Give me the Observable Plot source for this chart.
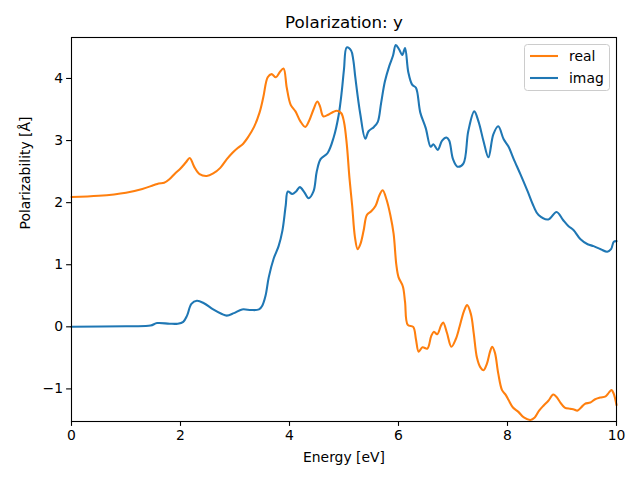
<!DOCTYPE html>
<html>
<head>
<meta charset="utf-8">
<script src="https://cdn.jsdelivr.net/npm/d3@7"></script>
<script src="https://cdn.jsdelivr.net/npm/@observablehq/plot@0.6"></script>
<style>
  html, body { margin: 0; padding: 0; background: #fff; }
</style>
</head>
<body>
<div id="chart"></div>
<script>
const titleText = "Polarization: y";
const xLabel = "Energy [eV]";
const yLabel = "Polarizability [Å]";
const xTicks = [0, 2, 4, 6, 8, 10];
const yTicks = [-1, 0, 1, 2, 3, 4];
const seriesNames = ["real", "imag"];
const seriesColors = ["#ff7f0e", "#1f77b4"];

const realE = [0, 0.5, 1.0, 1.3, 1.5, 1.6, 1.7, 1.8, 1.9, 2.0, 2.1, 2.17, 2.25, 2.35, 2.48, 2.6, 2.73, 2.85, 2.95, 3.05, 3.15, 3.25, 3.35, 3.45, 3.52, 3.6, 3.67, 3.75, 3.82, 3.89, 3.95, 4.02, 4.11, 4.2, 4.29, 4.36, 4.44, 4.51, 4.56, 4.62, 4.72, 4.8, 4.87, 4.95, 5.0, 5.05, 5.1, 5.15, 5.2, 5.25, 5.3, 5.36, 5.42, 5.5, 5.58, 5.65, 5.71, 5.78, 5.85, 5.91, 5.96, 6.0, 6.08, 6.12, 6.17, 6.27, 6.32, 6.37, 6.44, 6.53, 6.6, 6.65, 6.71, 6.78, 6.82, 6.89, 6.97, 7.05, 7.12, 7.2, 7.26, 7.33, 7.38, 7.44, 7.5, 7.56, 7.62, 7.68, 7.72, 7.77, 7.83, 7.9, 7.97, 8.02, 8.1, 8.2, 8.3, 8.42, 8.5, 8.58, 8.66, 8.75, 8.84, 8.9, 8.97, 9.05, 9.15, 9.22, 9.28, 9.35, 9.42, 9.52, 9.6, 9.7, 9.8, 9.86, 9.91, 9.95, 10.0];
const realV = [2.09, 2.11, 2.16, 2.22, 2.28, 2.31, 2.32, 2.38, 2.47, 2.55, 2.65, 2.72, 2.58, 2.46, 2.43, 2.47, 2.56, 2.7, 2.8, 2.88, 2.95, 3.07, 3.22, 3.45, 3.7, 4.02, 4.07, 4.02, 4.1, 4.16, 3.85, 3.58, 3.47, 3.31, 3.22, 3.32, 3.5, 3.63, 3.55, 3.39, 3.42, 3.46, 3.48, 3.44, 3.3, 2.95, 2.4, 1.95, 1.45, 1.25, 1.33, 1.55, 1.8, 1.86, 1.95, 2.12, 2.2, 2.05, 1.8, 1.5, 1.0, 0.8, 0.65, 0.4, 0.03, 0.0, -0.2, -0.4, -0.33, -0.35, -0.15, -0.08, -0.12, 0.02, 0.07, -0.1, -0.32, -0.2, 0.0, 0.25, 0.35, 0.2, -0.1, -0.5, -0.65, -0.7, -0.6, -0.4, -0.32, -0.42, -0.75, -1.02, -1.1, -1.18, -1.3, -1.37, -1.46, -1.5, -1.46, -1.35, -1.27, -1.19, -1.09, -1.13, -1.22, -1.3, -1.32, -1.33, -1.35, -1.3, -1.24, -1.22, -1.17, -1.14, -1.12, -1.06, -1.02, -1.08, -1.26];

const imagE = [0, 1.0, 1.45, 1.57, 1.8, 1.95, 2.05, 2.12, 2.2, 2.3, 2.43, 2.6, 2.75, 2.85, 2.98, 3.13, 3.3, 3.44, 3.5, 3.56, 3.62, 3.71, 3.8, 3.87, 3.93, 3.97, 4.05, 4.12, 4.19, 4.27, 4.35, 4.44, 4.5, 4.57, 4.7, 4.81, 4.9, 4.96, 5.0, 5.05, 5.13, 5.17, 5.21, 5.3, 5.39, 5.45, 5.55, 5.62, 5.68, 5.75, 5.83, 5.9, 5.95, 6.01, 6.07, 6.12, 6.18, 6.25, 6.32, 6.4, 6.5, 6.59, 6.64, 6.72, 6.8, 6.88, 6.93, 7.0, 7.08, 7.19, 7.28, 7.39, 7.47, 7.56, 7.65, 7.74, 7.83, 7.93, 8.02, 8.11, 8.24, 8.37, 8.48, 8.57, 8.75, 8.9, 9.02, 9.12, 9.21, 9.34, 9.47, 9.58, 9.71, 9.83, 9.9, 9.95, 10.0];
const imagV = [0.0, 0.01, 0.02, 0.06, 0.05, 0.05, 0.08, 0.18, 0.37, 0.42, 0.38, 0.28, 0.21, 0.18, 0.22, 0.28, 0.27, 0.28, 0.34, 0.5, 0.8, 1.1, 1.3, 1.55, 1.95, 2.18, 2.14, 2.18, 2.25, 2.17, 2.07, 2.18, 2.5, 2.7, 2.8, 3.05, 3.4, 3.8, 4.15, 4.5, 4.45, 4.3, 4.0, 3.42, 3.03, 3.15, 3.22, 3.3, 3.6, 3.95, 4.2, 4.37, 4.54, 4.47, 4.38, 4.49, 4.1, 3.9, 3.85, 3.45, 3.2, 2.9, 2.94, 2.85, 3.0, 3.05, 3.0, 2.7, 2.58, 2.63, 3.15, 3.47, 3.3, 2.99, 2.73, 3.1, 3.23, 3.02, 2.9, 2.71, 2.45, 2.18, 1.94, 1.8, 1.73, 1.85, 1.72, 1.62, 1.56, 1.41, 1.33, 1.3, 1.25, 1.21, 1.25, 1.37, 1.38];

const realData = realE.map((e, i) => ({E: e, v: realV[i]}));
const imagData = imagE.map((e, i) => ({E: e, v: imagV[i]}));

const font = "DejaVu Sans, Liberation Sans, sans-serif";
const intFmt = d3.format("d");

const chart = Plot.plot({
  width: 640,
  height: 480,
  marginLeft: 71,
  marginRight: 24,
  marginTop: 37,
  marginBottom: 59,
  style: {fontFamily: font, fontSize: "13.9px", background: "#fff", color: "#000"},
  x: {domain: [0, 10]},
  y: {domain: [-1.525, 4.66]},
  marks: [
    Plot.line(imagData, {x: "E", y: "v", stroke: seriesColors[1], strokeWidth: 2.08, curve: "catmull-rom"}),
    Plot.line(realData, {x: "E", y: "v", stroke: seriesColors[0], strokeWidth: 2.08, curve: "catmull-rom"}),
    Plot.axisX({ticks: xTicks, tickFormat: intFmt, tickSize: 4.9, tickPadding: 3.5, label: null, fontSize: "13.9px", strokeWidth: 1.1}),
    Plot.axisY({ticks: yTicks, tickFormat: intFmt, tickSize: 4.9, tickPadding: 3.5, label: null, fontSize: "13.9px", strokeWidth: 1.1}),
    Plot.frame({stroke: "#000", strokeWidth: 1.1}),
    Plot.text([titleText], {frameAnchor: "top", dy: -15, fontSize: "16.7px", lineAnchor: "middle"}),
    Plot.text([xLabel], {frameAnchor: "bottom", dy: 36, fontSize: "13.9px", lineAnchor: "middle"}),
    Plot.text([yLabel], {frameAnchor: "left", dx: -46, rotate: -90, fontSize: "13.9px", lineAnchor: "middle"})
  ]
});

document.getElementById("chart").appendChild(chart);

// legend in the upper-right corner (matplotlib style)
const svg = d3.select(chart.tagName.toLowerCase() === "svg" ? chart : chart.querySelector("svg"));
const lg = svg.append("g").attr("transform", "translate(524.5,44.5)");
lg.append("rect").attr("width", 85).attr("height", 46).attr("rx", 3)
  .attr("fill", "#fff").attr("fill-opacity", 0.8).attr("stroke", "#ccc").attr("stroke-width", 1);
seriesNames.forEach((name, i) => {
  const y = 11.5 + i * 22;
  lg.append("line").attr("x1", 5.5).attr("x2", 33.5).attr("y1", y).attr("y2", y)
    .attr("stroke", seriesColors[i]).attr("stroke-width", 2.08);
  lg.append("text").attr("x", 44.5).attr("y", y).attr("dy", "0.35em")
    .attr("text-anchor", "start")
    .attr("font-family", font).attr("font-size", "13.9px").attr("fill", "#000").text(name);
});
</script>
</body>
</html>
